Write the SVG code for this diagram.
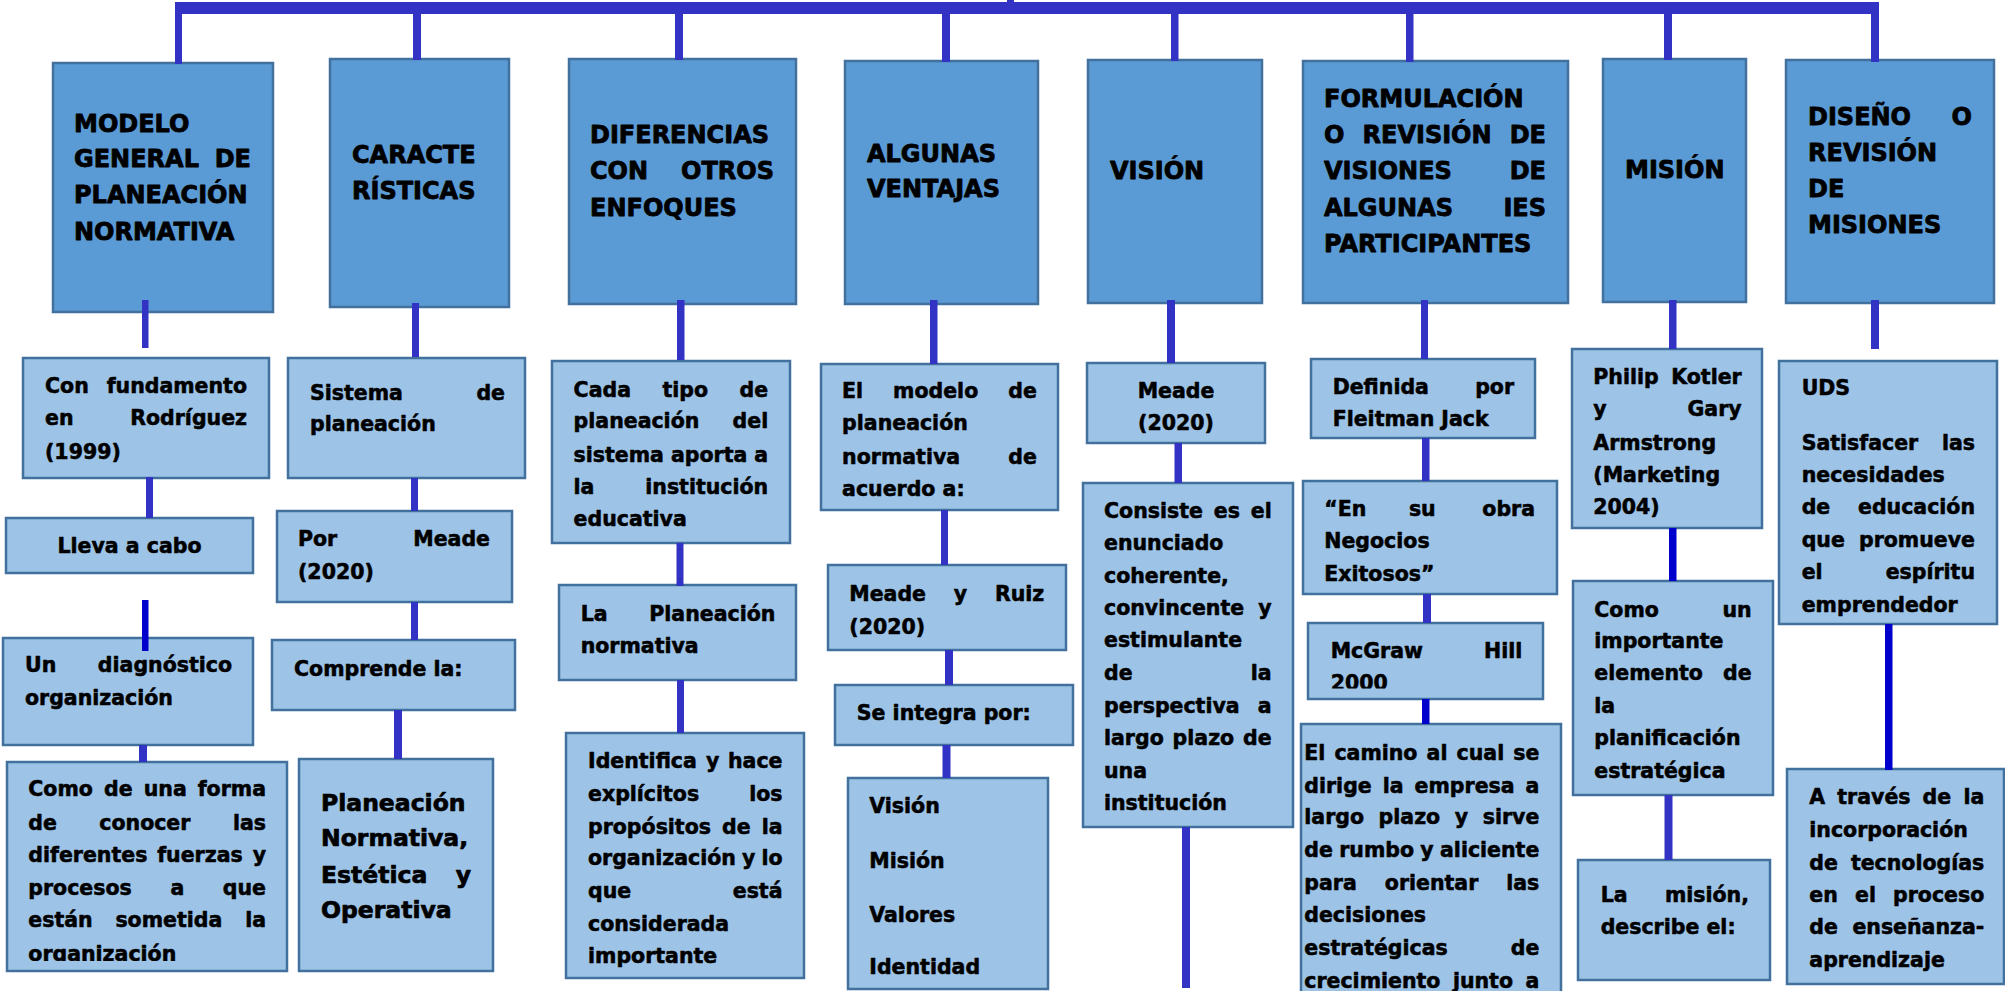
<svg xmlns="http://www.w3.org/2000/svg" width="2005" height="991" viewBox="0 0 2005 991">
<style>
.h{fill:#5B9BD5;stroke:#41719C;stroke-width:2.5}
.c{fill:#9DC3E6;stroke:#41719C;stroke-width:2.5}
text{font-family:"DejaVu Sans","Liberation Sans",sans-serif;font-weight:bold;fill:#000;stroke:#000;stroke-width:0.55;stroke-linejoin:round}
.t{font-size:24px;stroke-width:0.8}
.b{font-size:20.5px}
.k{font-size:23.5px;stroke-width:0.7}
.e{text-anchor:end}
.m{text-anchor:middle}
#connectors rect{fill:#3232C4}
#connectors rect.d{fill:#0000CC}
</style>
<defs>
<clipPath id="clipA4"><rect x="7" y="762" width="280" height="199"/></clipPath>
<clipPath id="clipF3"><rect x="1308" y="623" width="235" height="65.5"/></clipPath>
</defs>

<g id="h1"><rect class="h" x="53" y="63" width="220" height="249"/>
<text class="t" x="74" y="132">MODELO</text>
<text class="t" x="74" y="167">GENERAL</text><text class="t e" x="251" y="167">DE</text>
<text class="t" x="74" y="203">PLANEACIÓN</text>
<text class="t" x="74" y="240">NORMATIVA</text></g>

<g id="h2"><rect class="h" x="330" y="59" width="179" height="248"/>
<text class="t" x="352" y="163">CARACTE</text>
<text class="t" x="352" y="199">RÍSTICAS</text></g>

<g id="h3"><rect class="h" x="569" y="59" width="227" height="245"/>
<text class="t" x="590" y="143">DIFERENCIAS</text>
<text class="t" x="590" y="179">CON</text><text class="t e" x="774" y="179">OTROS</text>
<text class="t" x="590" y="216">ENFOQUES</text></g>

<g id="h4"><rect class="h" x="845" y="61" width="193" height="243"/>
<text class="t" x="867" y="162">ALGUNAS</text>
<text class="t" x="867" y="197">VENTAJAS</text></g>

<g id="h5"><rect class="h" x="1088" y="60" width="174" height="243"/>
<text class="t" x="1110" y="179">VISIÓN</text></g>

<g id="h6"><rect class="h" x="1303" y="61" width="265" height="242"/>
<text class="t" x="1324" y="107">FORMULACIÓN</text>
<text class="t" x="1324" y="143">O</text><text class="t" x="1362.5" y="143">REVISIÓN</text><text class="t e" x="1546" y="143">DE</text>
<text class="t" x="1324" y="179">VISIONES</text><text class="t e" x="1546" y="179">DE</text>
<text class="t" x="1324" y="216">ALGUNAS</text><text class="t e" x="1546" y="216">IES</text>
<text class="t" x="1324" y="252">PARTICIPANTES</text></g>

<g id="h7"><rect class="h" x="1603" y="59" width="143" height="243"/>
<text class="t" x="1625" y="178">MISIÓN</text></g>

<g id="h8"><rect class="h" x="1786" y="60" width="208" height="243"/>
<text class="t" x="1808" y="125">DISEÑO</text><text class="t e" x="1972" y="125">O</text>
<text class="t" x="1808" y="161">REVISIÓN</text>
<text class="t" x="1808" y="197">DE</text>
<text class="t" x="1808" y="233">MISIONES</text></g>

<g id="a1"><rect class="c" x="23" y="358" width="246" height="120"/>
<text class="b" x="45" y="393">Con</text><text class="b e" x="247" y="393">fundamento</text>
<text class="b" x="45" y="425">en</text><text class="b e" x="247" y="425">Rodríguez</text>
<text class="b" x="45" y="458.6">(1999)</text></g>

<g id="a2"><rect class="c" x="6" y="518" width="247" height="55"/>
<text class="b m" x="129.5" y="552.6">Lleva a cabo</text></g>

<g id="a3"><rect class="c" x="3" y="638" width="250" height="107"/>
<text class="b" x="25" y="672">Un</text><text class="b e" x="232" y="672">diagnóstico</text>
<text class="b" x="25" y="705">organización</text></g>

<g id="a4"><rect class="c" x="7" y="762" width="280" height="209"/>
<g clip-path="url(#clipA4)">
<text class="b" x="28.3" y="796">Como</text><text class="b" x="104" y="796">de</text><text class="b" x="143.7" y="796">una</text><text class="b e" x="266" y="796">forma</text>
<text class="b" x="28.3" y="829.6">de</text><text class="b" x="99.3" y="829.6">conocer</text><text class="b e" x="266" y="829.6">las</text>
<text class="b" x="28.3" y="862">diferentes</text><text class="b" x="157.2" y="862">fuerzas</text><text class="b e" x="266" y="862">y</text>
<text class="b" x="28.3" y="895">procesos</text><text class="b" x="170.4" y="895">a</text><text class="b e" x="266" y="895">que</text>
<text class="b" x="28.3" y="926.5">están</text><text class="b" x="115.4" y="926.5">sometida</text><text class="b e" x="266" y="926.5">la</text>
<text class="b" x="28.3" y="961">organización</text></g></g>

<g id="b1"><rect class="c" x="288" y="358" width="237" height="120"/>
<text class="b" x="310" y="399.6">Sistema</text><text class="b e" x="505" y="399.6">de</text>
<text class="b" x="310" y="431.2">planeación</text></g>

<g id="b2"><rect class="c" x="277" y="511" width="235" height="91"/>
<text class="b" x="298" y="545.8">Por</text><text class="b e" x="490" y="545.8">Meade</text>
<text class="b" x="298" y="578.7">(2020)</text></g>

<g id="b3"><rect class="c" x="272" y="640" width="243" height="70"/>
<text class="b" x="294" y="675.7">Comprende la:</text></g>

<g id="b4"><rect class="c" x="299" y="759" width="194" height="212"/>
<text class="k" x="321" y="810.6">Planeación</text>
<text class="k" x="321" y="846.4">Normativa,</text>
<text class="k" x="321" y="883.1">Estética</text><text class="k e" x="471" y="883.1">y</text>
<text class="k" x="321" y="918">Operativa</text></g>

<g id="c1"><rect class="c" x="552" y="361" width="238" height="182"/>
<text class="b" x="573.6" y="396.6">Cada</text><text class="b" x="662.5" y="396.6">tipo</text><text class="b e" x="768.2" y="396.6">de</text>
<text class="b" x="573.6" y="428.2">planeación</text><text class="b e" x="768.2" y="428.2">del</text>
<text class="b" x="573.6" y="462">sistema</text><text class="b" x="671" y="462">aporta</text><text class="b e" x="768.2" y="462">a</text>
<text class="b" x="573.6" y="493.6">la</text><text class="b e" x="768.2" y="493.6">institución</text>
<text class="b" x="573.6" y="526">educativa</text></g>

<g id="c2"><rect class="c" x="559" y="585" width="237" height="95"/>
<text class="b" x="580.7" y="620.9">La</text><text class="b e" x="775.4" y="620.9">Planeación</text>
<text class="b" x="580.7" y="652.5">normativa</text></g>

<g id="c3"><rect class="c" x="566" y="733" width="238" height="245"/>
<text class="b" x="588" y="768.4">Identifica</text><text class="b" x="706.1" y="768.4">y</text><text class="b e" x="782.5" y="768.4">hace</text>
<text class="b" x="588" y="801.3">explícitos</text><text class="b e" x="782.5" y="801.3">los</text>
<text class="b" x="588" y="833.8">propósitos</text><text class="b" x="722" y="833.8">de</text><text class="b e" x="782.5" y="833.8">la</text>
<text class="b" x="588" y="865.4">organización</text><text class="b" x="742" y="865.4">y</text><text class="b e" x="782.5" y="865.4">lo</text>
<text class="b" x="588" y="898.3">que</text><text class="b e" x="782.5" y="898.3">está</text>
<text class="b" x="588" y="930.7">considerada</text>
<text class="b" x="588" y="963.2">importante</text></g>

<g id="d1"><rect class="c" x="821" y="364" width="237" height="146"/>
<text class="b" x="842.1" y="398.3">El</text><text class="b" x="893.1" y="398.3">modelo</text><text class="b e" x="1036.8" y="398.3">de</text>
<text class="b" x="842.1" y="430.3">planeación</text>
<text class="b" x="842.1" y="463.6">normativa</text><text class="b e" x="1036.8" y="463.6">de</text>
<text class="b" x="842.1" y="495.7">acuerdo a:</text></g>

<g id="d2"><rect class="c" x="828" y="565" width="238" height="85"/>
<text class="b" x="849.3" y="600.6">Meade</text><text class="b" x="953.8" y="600.6">y</text><text class="b e" x="1044.3" y="600.6">Ruiz</text>
<text class="b" x="849.3" y="633.5">(2020)</text></g>

<g id="d3"><rect class="c" x="835" y="685" width="238" height="60"/>
<text class="b" x="856.8" y="720">Se integra por:</text></g>

<g id="d4"><rect class="c" x="848" y="778" width="200" height="211"/>
<text class="b" x="869.3" y="812.7">Visión</text>
<text class="b" x="869.3" y="867.5">Misión</text>
<text class="b" x="869.3" y="921.5">Valores</text>
<text class="b" x="869.3" y="973.5">Identidad</text></g>

<g id="e1"><rect class="c" x="1087" y="363" width="178" height="80"/>
<text class="b m" x="1176" y="398.3">Meade</text>
<text class="b m" x="1176" y="430.3">(2020)</text></g>

<g id="e2"><rect class="c" x="1083" y="483" width="210" height="344"/>
<text class="b" x="1104" y="517.6">Consiste</text><text class="b" x="1213.8" y="517.6">es</text><text class="b e" x="1271.7" y="517.6">el</text>
<text class="b" x="1104" y="550.1">enunciado</text>
<text class="b" x="1104" y="582.9">coherente,</text>
<text class="b" x="1104" y="615.4">convincente</text><text class="b e" x="1271.7" y="615.4">y</text>
<text class="b" x="1104" y="647.4">estimulante</text>
<text class="b" x="1104" y="679.9">de</text><text class="b e" x="1271.7" y="679.9">la</text>
<text class="b" x="1104" y="712.8">perspectiva</text><text class="b e" x="1271.7" y="712.8">a</text>
<text class="b" x="1104" y="745.2">largo</text><text class="b" x="1172.6" y="745.2">plazo</text><text class="b e" x="1271.7" y="745.2">de</text>
<text class="b" x="1104" y="777.7">una</text>
<text class="b" x="1104" y="809.7">institución</text></g>

<g id="f1"><rect class="c" x="1311" y="359" width="224" height="79"/>
<text class="b" x="1332.7" y="394.1">Definida</text><text class="b e" x="1514" y="394.1">por</text>
<text class="b" x="1332.7" y="426.1">Fleitman Jack</text></g>

<g id="f2"><rect class="c" x="1303" y="481" width="254" height="113"/>
<text class="b" x="1324.3" y="515.5">“En</text><text class="b" x="1408.9" y="515.5">su</text><text class="b e" x="1535" y="515.5">obra</text>
<text class="b" x="1324.3" y="548.4">Negocios</text>
<text class="b" x="1324.3" y="580.8">Exitosos”</text></g>

<g id="f3"><rect class="c" x="1308" y="623" width="235" height="76"/>
<text class="b" x="1330.7" y="658">McGraw</text><text class="b e" x="1522.3" y="658">Hill</text>
<text class="b" x="1330.7" y="690" clip-path="url(#clipF3)">2000</text></g>

<g id="f4"><rect class="c" x="1301" y="724" width="260" height="280"/>
<text class="b" x="1304.3" y="760">El</text><text class="b" x="1334.4" y="760">camino</text><text class="b" x="1426.6" y="760">al</text><text class="b" x="1456.6" y="760">cual</text><text class="b e" x="1539.3" y="760">se</text>
<text class="b" x="1304.3" y="792.5">dirige</text><text class="b" x="1382.7" y="792.5">la</text><text class="b" x="1414.6" y="792.5">empresa</text><text class="b e" x="1539.3" y="792.5">a</text>
<text class="b" x="1304.3" y="824.1">largo</text><text class="b" x="1378.6" y="824.1">plazo</text><text class="b" x="1454.8" y="824.1">y</text><text class="b e" x="1539.3" y="824.1">sirve</text>
<text class="b" x="1304.3" y="857">de</text><text class="b" x="1339.2" y="857">rumbo</text><text class="b" x="1420.3" y="857">y</text><text class="b e" x="1539.3" y="857">aliciente</text>
<text class="b" x="1304.3" y="889.8">para</text><text class="b" x="1384.8" y="889.8">orientar</text><text class="b e" x="1539.3" y="889.8">las</text>
<text class="b" x="1304.3" y="922.3">decisiones</text>
<text class="b" x="1304.3" y="954.5">estratégicas</text><text class="b e" x="1539.3" y="954.5">de</text>
<text class="b" x="1304.3" y="987.5">crecimiento</text><text class="b" x="1452.9" y="987.5">junto</text><text class="b e" x="1539.3" y="987.5">a</text></g>

<g id="g1"><rect class="c" x="1572" y="349" width="190" height="179"/>
<text class="b" x="1593.3" y="384">Philip</text><text class="b e" x="1741.7" y="384">Kotler</text>
<text class="b" x="1593.3" y="416.4">y</text><text class="b e" x="1741.7" y="416.4">Gary</text>
<text class="b" x="1593.3" y="450.1">Armstrong</text>
<text class="b" x="1593.3" y="481.8">(Marketing</text>
<text class="b" x="1593.3" y="514.2">2004)</text></g>

<g id="g2"><rect class="c" x="1573" y="581" width="200" height="214"/>
<text class="b" x="1594.3" y="616.7">Como</text><text class="b e" x="1751.7" y="616.7">un</text>
<text class="b" x="1594.3" y="648.3">importante</text>
<text class="b" x="1594.3" y="679.9">elemento</text><text class="b e" x="1751.7" y="679.9">de</text>
<text class="b" x="1594.3" y="712.8">la</text>
<text class="b" x="1594.3" y="745.2">planificación</text>
<text class="b" x="1594.3" y="777.7">estratégica</text></g>

<g id="g3"><rect class="c" x="1578" y="860" width="192" height="120"/>
<text class="b" x="1600.7" y="902.1">La</text><text class="b e" x="1749" y="902.1">misión,</text>
<text class="b" x="1600.7" y="934">describe el:</text></g>

<g id="h8a"><rect class="c" x="1779" y="361" width="218" height="263"/>
<text class="b" x="1801.7" y="395.3">UDS</text>
<text class="b" x="1801.7" y="450.1">Satisfacer</text><text class="b e" x="1975" y="450.1">las</text>
<text class="b" x="1801.7" y="481.8">necesidades</text>
<text class="b" x="1801.7" y="514.2">de</text><text class="b e" x="1975" y="514.2">educación</text>
<text class="b" x="1801.7" y="547.1">que</text><text class="b e" x="1975" y="547.1">promueve</text>
<text class="b" x="1801.7" y="578.7">el</text><text class="b e" x="1975" y="578.7">espíritu</text>
<text class="b" x="1801.7" y="611.6">emprendedor</text></g>

<g id="h8b"><rect class="c" x="1787" y="769" width="217" height="215"/>
<text class="b" x="1809.3" y="804.3">A</text><text class="b" x="1837.3" y="804.3">través</text><text class="b" x="1922.6" y="804.3">de</text><text class="b e" x="1984.3" y="804.3">la</text>
<text class="b" x="1809.3" y="837.1">incorporación</text>
<text class="b" x="1809.3" y="869.6">de</text><text class="b e" x="1984.3" y="869.6">tecnologías</text>
<text class="b" x="1809.3" y="902.1">en</text><text class="b" x="1855" y="902.1">el</text><text class="b e" x="1984.3" y="902.1">proceso</text>
<text class="b" x="1809.3" y="934.1">de</text><text class="b e" x="1984.3" y="934.1">enseñanza-</text>
<text class="b" x="1809.3" y="966.6">aprendizaje</text></g>

<g id="connectors">
<rect x="175" y="2" width="1704" height="12"/>
<rect x="1007" y="0" width="7" height="4"/>
<rect x="175" y="4" width="7" height="60"/>
<rect x="413" y="8" width="8" height="52"/>
<rect x="675" y="8" width="8" height="52"/>
<rect x="942" y="8" width="8" height="54"/>
<rect x="1171" y="8" width="7.5" height="53"/>
<rect x="1406" y="8" width="7.5" height="54"/>
<rect x="1664" y="8" width="8" height="52"/>
<rect x="1871" y="8" width="8" height="54"/>
<rect x="142" y="300" width="6.5" height="48"/>
<rect x="412" y="303" width="7" height="54"/>
<rect x="677" y="300" width="7.5" height="60"/>
<rect x="930" y="300" width="7.5" height="64"/>
<rect x="1167" y="300" width="8" height="63"/>
<rect x="1421" y="300" width="7" height="59"/>
<rect x="1669" y="300" width="7.5" height="49"/>
<rect x="1871" y="300" width="8" height="49"/>
<rect x="146" y="477" width="7" height="41"/>
<rect class="d" x="142" y="600" width="6.5" height="51"/>
<rect x="139" y="745" width="8" height="17"/>
<rect x="411" y="478" width="7" height="33"/>
<rect x="411" y="602" width="7" height="38"/>
<rect x="394" y="710" width="8" height="49"/>
<rect x="676.5" y="543" width="7" height="43"/>
<rect x="677" y="680" width="7" height="53"/>
<rect x="941" y="510" width="7" height="55"/>
<rect x="945" y="650" width="8" height="35"/>
<rect x="942.5" y="745" width="8" height="33"/>
<rect x="1174.5" y="443" width="7.5" height="40"/>
<rect x="1182" y="827" width="8" height="161"/>
<rect x="1422" y="438" width="7.5" height="43"/>
<rect x="1423" y="594" width="8" height="29"/>
<rect class="d" x="1422" y="699" width="7.5" height="25"/>
<rect class="d" x="1669" y="528" width="7.5" height="53"/>
<rect x="1664.5" y="795" width="8" height="65"/>
<rect class="d" x="1885" y="624" width="7.5" height="146"/>
</g>
</svg>
